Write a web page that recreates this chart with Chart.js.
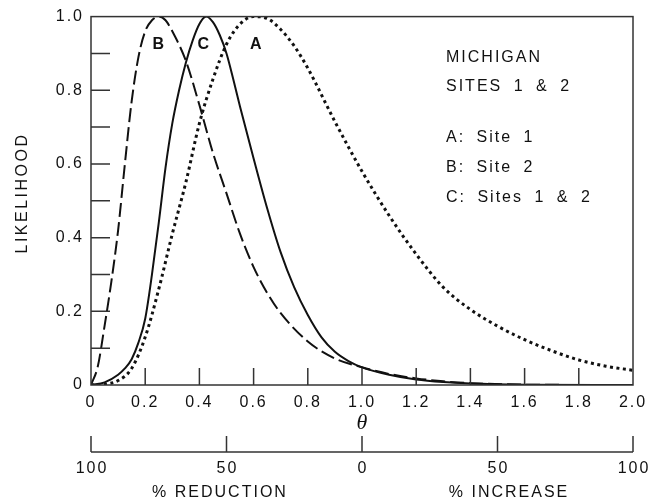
<!DOCTYPE html>
<html>
<head>
<meta charset="utf-8">
<script src="https://cdn.jsdelivr.net/npm/chart.js@4/dist/chart.umd.min.js"></script>
<style>
  body { margin: 0; background: #fff; }
  #chart { display: block; }
</style>
</head>
<body>
<canvas id="chart" width="664" height="504"></canvas>
<script>
// curve A: Site 1 (dotted)
var thetaA = [0, 0.05, 0.1, 0.15, 0.2, 0.25, 0.3, 0.35, 0.4, 0.45, 0.5, 0.55, 0.6, 0.65, 0.7, 0.75, 0.8, 0.9, 1.0, 1.1, 1.2, 1.3, 1.4, 1.5, 1.6, 1.7, 1.8, 1.9, 2.0];
var likelihoodA = [0, 0.002, 0.012, 0.045, 0.13, 0.26, 0.41, 0.55, 0.71, 0.83, 0.925, 0.98, 1.0, 0.995, 0.965, 0.92, 0.86, 0.715, 0.58, 0.46, 0.355, 0.265, 0.205, 0.16, 0.123, 0.093, 0.068, 0.051, 0.04];
// curve B: Site 2 (dashed)
var thetaB = [0, 0.025, 0.05, 0.075, 0.1, 0.125, 0.15, 0.175, 0.2, 0.225, 0.25, 0.275, 0.3, 0.35, 0.4, 0.45, 0.5, 0.55, 0.6, 0.65, 0.7, 0.8, 0.9, 1.0, 1.1, 1.2, 1.3, 1.4, 1.6, 2.0];
var likelihoodB = [0, 0.05, 0.16, 0.28, 0.42, 0.6, 0.77, 0.89, 0.96, 0.99, 1.0, 0.99, 0.96, 0.88, 0.76, 0.63, 0.52, 0.41, 0.32, 0.25, 0.195, 0.118, 0.072, 0.048, 0.03, 0.018, 0.01, 0.005, 0.001, 0];
// curve C: Sites 1 & 2 (solid)
var thetaC = [0, 0.05, 0.1, 0.125, 0.15, 0.175, 0.2, 0.225, 0.25, 0.275, 0.3, 0.325, 0.35, 0.375, 0.4, 0.425, 0.45, 0.475, 0.5, 0.525, 0.55, 0.6, 0.65, 0.7, 0.75, 0.8, 0.85, 0.9, 0.95, 1.0, 1.1, 1.2, 1.3, 1.4, 1.6, 2.0];
var likelihoodC = [0, 0.007, 0.028, 0.045, 0.07, 0.115, 0.18, 0.3, 0.44, 0.59, 0.71, 0.8, 0.875, 0.935, 0.98, 1.0, 0.985, 0.95, 0.9, 0.83, 0.755, 0.615, 0.48, 0.36, 0.265, 0.19, 0.13, 0.09, 0.065, 0.048, 0.028, 0.015, 0.008, 0.004, 0.001, 0];

// letters on the curves
var curveLetters = ['B', 'C', 'A'];
var curveLetterTheta = [0.252, 0.418, 0.612];
var curveLetterY = [0.925, 0.925, 0.925];

// lower scale: % reduction / % increase
var pctTickTheta = [0, 0.5, 1.0, 1.5, 2.0];
var pctTickLabels = ['100', '50', '0', '50', '100'];

var legendLines = ['MICHIGAN', 'SITES 1 & 2', '', 'A: Site 1', 'B: Site 2', 'C: Sites 1 & 2'];

var INK = '#111';
var FONT = '"Liberation Sans", Arial, sans-serif';

function toPoints(xs, ys) {
  var pts = [];
  for (var i = 0; i < xs.length; i++) pts.push({x: xs[i], y: ys[i]});
  return pts;
}

var extras = {
  id: 'extras',
  beforeDraw: function(chart) {
    chart.ctx.letterSpacing = '2px';
  },
  afterDraw: function(chart) {
    var ctx = chart.ctx;
    var a = chart.chartArea;
    var xs = chart.scales.x, ys = chart.scales.y;
    ctx.save();
    ctx.strokeStyle = '#333';
    ctx.lineWidth = 1.5;
    ctx.strokeRect(a.left, a.top, a.right - a.left, a.bottom - a.top);

    // inward ticks
    ctx.beginPath();
    ys.ticks.forEach(function(t) {
      if (t.value <= 0 || t.value >= 1) return;
      var py = ys.getPixelForValue(t.value);
      ctx.moveTo(a.left, py); ctx.lineTo(a.left + 19, py);
    });
    xs.ticks.forEach(function(t) {
      if (t.value <= 0 || t.value >= 2) return;
      var px = xs.getPixelForValue(t.value);
      ctx.moveTo(px, a.bottom); ctx.lineTo(px, a.bottom - 17);
    });
    ctx.stroke();

    ctx.fillStyle = INK;
    ctx.textAlign = 'center';
    ctx.textBaseline = 'middle';

    // y title
    ctx.save();
    ctx.translate(23, 193);
    ctx.rotate(-Math.PI / 2);
    ctx.letterSpacing = '2.5px';
    ctx.font = '16px ' + FONT;
    ctx.fillText('LIKELIHOOD', 0, 0);
    ctx.restore();

    ctx.letterSpacing = '0px';
    ctx.font = 'italic 22px "Liberation Serif", "DejaVu Serif", serif';
    ctx.fillText('\u03b8', xs.getPixelForValue(1.0), 423);

    // second axis
    var ay = 452;
    ctx.beginPath();
    ctx.moveTo(xs.getPixelForValue(0), ay);
    ctx.lineTo(xs.getPixelForValue(2), ay);
    pctTickTheta.forEach(function(v) {
      var px = xs.getPixelForValue(v);
      ctx.moveTo(px, ay); ctx.lineTo(px, ay - 16);
    });
    ctx.stroke();
    ctx.letterSpacing = '2px';
    ctx.font = '16px ' + FONT;
    pctTickTheta.forEach(function(v, i) {
      ctx.fillText(pctTickLabels[i], xs.getPixelForValue(v) + 1, 469);
    });
    ctx.fillText('% REDUCTION', 220, 493);
    ctx.fillText('% INCREASE', 509, 493);

    // curve letters
    ctx.font = 'bold 16px ' + FONT;
    curveLetters.forEach(function(l, i) {
      ctx.fillText(l, xs.getPixelForValue(curveLetterTheta[i]), ys.getPixelForValue(curveLetterY[i]));
    });

    // legend text
    ctx.font = '16px ' + FONT;
    ctx.wordSpacing = '5px';
    ctx.textAlign = 'left';
    var ly = [58, 87, 0, 138, 168, 198];
    legendLines.forEach(function(s, i) {
      if (s) ctx.fillText(s, 446, ly[i]);
    });
    ctx.restore();
  }
};

var ctxChart = document.getElementById('chart');
var myChart = new Chart(ctxChart, {
  type: 'line',
  data: {
    datasets: [
      {
        label: 'A: Site 1',
        data: toPoints(thetaA, likelihoodA),
        borderColor: INK,
        borderWidth: 3,
        borderDash: [3, 3.5],
        pointRadius: 0,
        cubicInterpolationMode: 'monotone'
      },
      {
        label: 'B: Site 2',
        data: toPoints(thetaB, likelihoodB),
        borderColor: INK,
        borderWidth: 2,
        borderDash: [14, 5],
        pointRadius: 0,
        cubicInterpolationMode: 'monotone'
      },
      {
        label: 'C: Sites 1 & 2',
        data: toPoints(thetaC, likelihoodC),
        borderColor: INK,
        borderWidth: 2,
        pointRadius: 0,
        cubicInterpolationMode: 'monotone'
      }
    ]
  },
  options: {
    responsive: false,
    animation: false,
    layout: { padding: { left: 0, top: 13, right: 31, bottom: 0 } },
    plugins: { legend: { display: false }, tooltip: { enabled: false } },
    scales: {
      x: {
        type: 'linear',
        min: 0,
        max: 2,
        grid: { display: false, drawTicks: false },
        border: { display: false },
        ticks: {
          stepSize: 0.2,
          padding: 8,
          color: INK,
          font: { family: FONT, size: 16 },
          maxRotation: 0,
          callback: function(v) { return v === 0 ? '0' : v.toFixed(1); }
        },
        afterFit: function(s) { s.height = 119; }
      },
      y: {
        min: 0,
        max: 1,
        grid: { display: false, drawTicks: false },
        border: { display: false },
        ticks: {
          stepSize: 0.1,
          padding: 7,
          color: INK,
          font: { family: FONT, size: 16 },
          callback: function(v) {
            var k = Math.round(v * 10);
            if (k % 2) return '';
            return k === 0 ? '0' : (k / 10).toFixed(1);
          }
        },
        afterFit: function(s) { s.width = 91; }
      }
    }
  },
  plugins: [extras]
});
</script>
</body>
</html>
